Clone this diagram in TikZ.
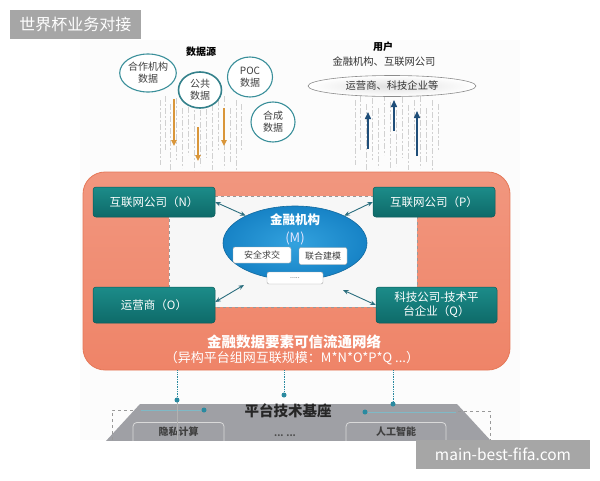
\documentclass[tikz,border=0pt]{standalone}
\usepackage{fontspec}
\setmainfont{Noto Sans CJK SC}
\usetikzlibrary{shapes.geometric,arrows.meta}
\definecolor{circ}{HTML}{3A8F9A}
\definecolor{orng}{HTML}{EF8468}
\definecolor{orngd}{HTML}{E57858}
\definecolor{tealA}{HTML}{1C8C89}
\definecolor{tealB}{HTML}{0E6A69}
\definecolor{tealD}{HTML}{0B5A59}
\definecolor{blueA}{HTML}{33A2DE}
\definecolor{blueB}{HTML}{1783C6}
\definecolor{arrT}{HTML}{2B6E7E}
\definecolor{gold}{HTML}{D9963A}
\definecolor{navy}{HTML}{1F4E79}
\definecolor{dotT}{HTML}{2A8AA0}
\definecolor{baseG}{HTML}{9FA0A5}
\definecolor{wm}{HTML}{A6A6A6}
\tikzset{
  srccirc/.style={ellipse,draw=circ,line width=1.1pt,fill=white,inner sep=0pt,align=center,
    font=\fontsize{10pt}{12pt}\selectfont,text=black!75},
  tealbox/.style={rectangle,rounded corners=3pt,draw=tealD,line width=0.5pt,top color=tealA,bottom color=tealB,
    text=white,align=center,inner sep=0pt,font=\fontsize{11.5pt}{14pt}\selectfont},
  smallbox/.style={rectangle,rounded corners=2pt,draw=black!35,fill=white,inner sep=0pt,
    text=black!75,font=\fontsize{9pt}{11pt}\selectfont},
  basebox/.style={rectangle,rounded corners=4pt,draw=black!15,line width=0.8pt,fill=baseG,inner sep=0pt,
    text=black!75,font=\fontsize{10pt}{12pt}\selectfont\bfseries},
  dblarr/.style={{Stealth[length=5.5pt,width=4.5pt]}-{Stealth[length=5.5pt,width=4.5pt]},draw=arrT,line width=0.9pt},
  downarr/.style={-{Triangle[length=6pt,width=5.5pt]},draw=gold,line width=1.4pt},
  uparr/.style={-{Triangle[length=7pt,width=6pt]},draw=navy,line width=1.5pt},
  streak/.style={draw=black!18,line width=0.4pt},
  dotnode/.style={circle,fill=dotT,inner sep=0pt,minimum size=5pt},
  tag/.style={rectangle,fill=wm,text=white,inner sep=0pt},
}
\begin{document}
\begin{tikzpicture}[x=1pt,y=-1pt]
\useasboundingbox (0,0) rectangle (600,480);
\fill[white] (0,0) rectangle (600,480);
% faint figure background
\fill[black!1] (80,40) rectangle (520,440);

% streak textures
\foreach \x/\a/\b in {160/100/165,165/96/150,170/104/170,176/98/160,182/108/168,188/95/155,194/102/170,200/110/166,206/97/158,212/105/170,218/100/150,224/96/168,230/108/162,236/100/170,241/104/150}
  \draw[streak,dash pattern=on 6pt off 2pt on 2pt off 2pt] (\x,\a) -- (\x,\b);
\foreach \x/\a/\b in {355/100/165,360/96/150,366/104/170,372/98/160,378/108/168,384/95/155,390/102/170,396/110/166,402/97/158,408/105/170,414/100/150,420/96/168,426/108/162,432/100/170,438/104/150}
  \draw[streak,dash pattern=on 6pt off 2pt on 2pt off 2pt] (\x,\a) -- (\x,\b);

% title tag
\node[tag,minimum width=131pt,minimum height=29pt,font=\fontsize{16pt}{18pt}\selectfont] (title) at (75.5,24.5) {世界杯业务对接};

% data sources
\node[font=\fontsize{10pt}{12pt}\selectfont\bfseries] (dsrc) at (201,52) {数据源};
\node[srccirc,minimum width=47pt,minimum height=38pt] (c1) at (148,73) {合作机构\\数据};
\node[srccirc,minimum width=43pt,minimum height=36pt,line width=1.6pt,draw=circ!90!black] (c2) at (200,90) {公共\\数据};
\node[srccirc,minimum width=45pt,minimum height=40pt] (c3) at (250,77) {POC\\数据};
\node[srccirc,minimum width=44pt,minimum height=40pt] (c4) at (273,122) {合成\\数据};

\coordinate (o1s) at (174,99);  \coordinate (o1e) at (174,146);
\coordinate (o2s) at (198,127); \coordinate (o2e) at (198,161);
\coordinate (o3s) at (224,108); \coordinate (o3e) at (224,146);
\draw[downarr] (o1s) -- (o1e);
\draw[downarr] (o2s) -- (o2e);
\draw[downarr] (o3s) -- (o3e);

% users
\node[font=\fontsize{10pt}{12pt}\selectfont\bfseries] (usr) at (383,47) {用户};
\node[font=\fontsize{10.3pt}{12pt}\selectfont,text=black!80] (usr2) at (384,62) {金融机构、互联网公司};
\node[ellipse,draw=black!45,line width=0.6pt,inner color=black!12,outer color=white,minimum width=168pt,minimum height=21pt,inner sep=0pt,
  font=\fontsize{10.3pt}{12pt}\selectfont,text=black!80] (usr3) at (392,86) {运营商、科技企业等};

\coordinate (u1s) at (368,149); \coordinate (u1e) at (368,112);
\coordinate (u2s) at (394,131); \coordinate (u2e) at (394,100);
\coordinate (u3s) at (417,156); \coordinate (u3e) at (417,111);
\draw[uparr] (u1s) -- (u1e);
\draw[uparr] (u2s) -- (u2e);
\draw[uparr] (u3s) -- (u3e);

% main orange network box
\node[rectangle,rounded corners=22pt,draw=orngd,line width=0.8pt,top color=orng!85!white,bottom color=orng,
  minimum width=427pt,minimum height=198pt,inner sep=0pt] (net) at (296.5,271) {};
\node[rectangle,draw=black!40,dashed,fill=black!3,minimum width=248pt,minimum height=111pt,inner sep=0pt] (inner) at (293,251.5) {};

\node[tealbox,minimum width=122pt,minimum height=30pt] (N) at (154,202) {互联网公司（N）};
\node[tealbox,minimum width=122pt,minimum height=30pt] (P) at (434,202) {互联网公司（P）};
\node[tealbox,minimum width=122pt,minimum height=36pt] (O) at (154,305) {运营商（O）};
\node[tealbox,minimum width=121pt,minimum height=36pt] (Q) at (436.5,305) {科技公司-技术平\\台企业（Q）};

\node[ellipse,draw=blueB!80!black,line width=0.6pt,inner color=blueA,outer color=blueB,minimum width=144pt,minimum height=74pt,inner sep=0pt] (M) at (295,243) {};
\node[text=white,font=\fontsize{12.5pt}{14pt}\selectfont\bfseries] (Mt) at (295,220) {金融机构};
\node[text=white!90!blue,font=\fontsize{13pt}{15pt}\selectfont] (Mm) at (295,238) {(M)};
\node[smallbox,minimum width=58pt,minimum height=16pt] (s1) at (262,255) {安全求交};
\node[smallbox,minimum width=48pt,minimum height=17pt] (s2) at (323,256) {联合建模};
\node[smallbox,minimum width=56pt,minimum height=12pt,font=\fontsize{7pt}{8pt}\selectfont] (s3) at (295,278) {.....};

\coordinate (aO) at (244,285);
\coordinate (aQ) at (343,290);
\draw[dblarr] (N.east) -- (M.151);
\draw[dblarr] (P.west) -- (M.29);
\draw[dblarr] ([yshift=3pt]O.east) -- (aO);
\draw[dblarr] (Q.west) -- (aQ);

\node[text=white,font=\fontsize{14.5pt}{17pt}\selectfont\bfseries] (nt1) at (294,342) {金融数据要素可信流通网络};
\node[text=white,font=\fontsize{13pt}{15pt}\selectfont] (nt2) at (292,358) {（异构平台组网互联规模：M*N*O*P*Q ...）};

% platform base (clipped at image edge)
\begin{scope}
\clip (0,0) rectangle (600,440);
\fill[baseG] (140,404) -- (457,404) -- (492,442) -- (105,442) -- cycle;
\draw[black!40,dashed,line width=0.6pt] (112,440) -- (112,410) -- (135,410);
\draw[black!40,dashed,line width=0.6pt] (458,411) -- (490,411) -- (490,440);
\node[basebox,minimum width=91pt,minimum height=30pt,anchor=north] (b1) at (178.5,422) {};
\node[basebox,minimum width=100pt,minimum height=30pt,anchor=north] (b2) at (396,422) {};
\node[font=\fontsize{10pt}{12pt}\selectfont\bfseries,text=black!75] (b1t) at (178.5,432) {隐私计算};
\node[font=\fontsize{10pt}{12pt}\selectfont\bfseries,text=black!75] (b2t) at (396,432) {人工智能};
\node[font=\fontsize{9pt}{10pt}\selectfont\bfseries,text=black!70] (bdots) at (285,436) {... ...};
\node[dotnode] (d4) at (204,410) {};
\node[dotnode] (d5) at (365,412) {};
\draw[dotT!60,line width=0.5pt] (141,410) -- (d4);
\draw[dotT!60,line width=0.5pt] (d5) -- (456,412);
\draw[black!30,line width=0.4pt] (177,402) -- (177,440);
\end{scope}
\node[font=\fontsize{14.5pt}{17pt}\selectfont\bfseries,text=black!85] (base) at (288,411) {平台技术基座};

\node[dotnode] (d1) at (177,400) {};
\node[dotnode] (d2) at (284,395) {};
\node[dotnode] (d3) at (393,404) {};
\draw[dotT,densely dotted,line width=0.7pt] (net.south -| d1) -- (d1);
\draw[dotT,densely dotted,line width=0.7pt] (net.south -| d2) -- (d2);
\draw[dotT,densely dotted,line width=0.7pt] (net.south -| d3) -- (d3);

% watermark
\node[tag,minimum width=174pt,minimum height=29pt,font=\fontsize{15.5pt}{18pt}\selectfont] (wmk) at (503,454.5) {main-best-fifa.com};
\end{tikzpicture}
\end{document}
